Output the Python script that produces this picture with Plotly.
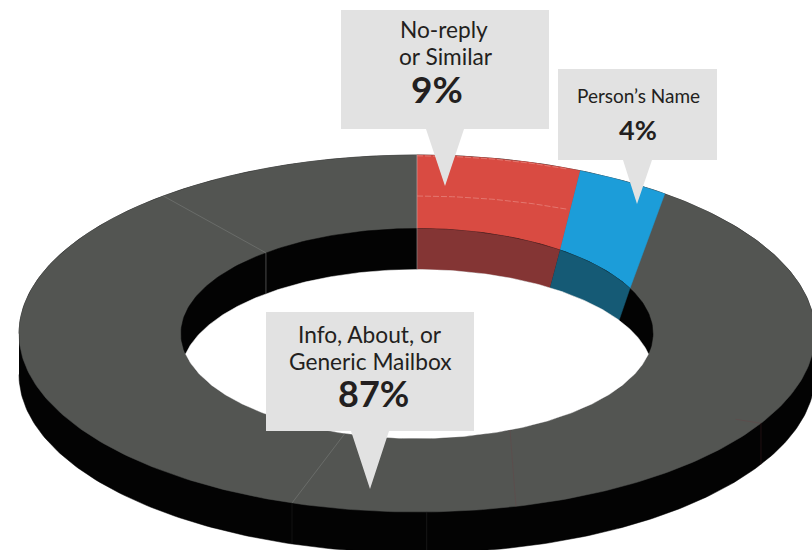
import numpy as np
import plotly.graph_objects as go

# --- data ---
categories = ["No-reply or Similar", "Person’s Name", "Info, About, or Generic Mailbox"]
percents = [9, 4, 87]
slice_colors = ["#D94B42", "#1C9DD9", "#535552"]
wall_colors = ["#843534", "#155A75", "#030303"]
# boundary angles, degrees clockwise from 12 o'clock, as drawn (the picture is warped)
outer_edge_deg = [0, 24.2, 38.5]
inner_edge_deg = [0, 37.3, 64.5]
wall_foot_deg = [0, 34.3, 58.9]
# faint seams: outer angle, inner angle, how far the seam runs from the rim
top_seam_outer = [-39.6, 198.3, 165.6, 120.2]
top_seam_inner = [-39.8, 197.8, 156.8, 128.0]
top_seam_reach = [1.0, 1.0, 1.0, 0.16]
top_seam_colors = ["#737573", "#737573", "#5e4a4a", "#5e4a4a"]
wall_seam_outer = [198.3, 178.6, 120.2]
wall_seam_colors = ["#181818", "#1c1c1c", "#2a1416"]

CX, CY = 417, 333.5
RX, RY = 398, 178.5
IX, IY = 236, 105
DEPTH = 41


def pt(rx, ry, deg, dy=0.0):
    t = np.radians(np.asarray(deg, dtype=float))
    return CX + rx * np.sin(t), CY - ry * np.cos(t) + dy


def arc(a, b, n=80):
    return np.linspace(a, b, n)


def poly(x, y, color):
    return go.Scatter(x=list(x), y=list(y), mode="lines", fill="toself", fillcolor=color,
                      line=dict(color=color, width=0.5), hoverinfo="skip", showlegend=False)


def seam(x, y, color, width=0.8, dash=None):
    return go.Scatter(x=list(x), y=list(y), mode="lines",
                      line=dict(color=color, width=width, dash=dash),
                      hoverinfo="skip", showlegend=False)


fig = go.Figure()

# extruded body: upper half of the top ellipse + lower half of the shifted ellipse
xa, ya = pt(RX, RY, arc(-90, 90, 200))
xb, yb = pt(RX, RY, arc(90, 270, 200), DEPTH)
fig.add_trace(poly(np.r_[xa, xb], np.r_[ya, yb], "#030303"))

# top face, whole ring base
xa, ya = pt(RX, RY, arc(0, 360, 400))
fig.add_trace(poly(xa, ya, slice_colors[2]))

# coloured slices on the top face
for i in range(2):
    xo, yo = pt(RX, RY, arc(outer_edge_deg[i], outer_edge_deg[i + 1]))
    xi, yi = pt(IX, IY, arc(inner_edge_deg[i + 1], inner_edge_deg[i]))
    fig.add_trace(poly(np.r_[xo, xi], np.r_[yo, yi], slice_colors[i]))

# hole, showing the inner wall
xa, ya = pt(IX, IY, arc(0, 360, 300))
fig.add_trace(poly(xa, ya, wall_colors[2]))

# coloured inner walls
for i in range(2):
    xo, yo = pt(IX, IY, arc(inner_edge_deg[i], inner_edge_deg[i + 1]))
    xi, yi = pt(IX, IY, arc(wall_foot_deg[i + 1], wall_foot_deg[i]), DEPTH)
    fig.add_trace(poly(np.r_[xo, xi], np.r_[yo, yi], wall_colors[i]))

# see-through part of the hole: intersection of the inner ellipse and its shifted copy
corner = np.degrees(np.arccos((DEPTH / 2) / IY))
xa, ya = pt(IX, IY, arc(-corner, corner, 200), DEPTH)
xb, yb = pt(IX, IY, arc(180 - corner, 180 + corner, 200))
fig.add_trace(poly(np.r_[xa, xb], np.r_[ya, yb], "#FFFFFF"))

# faint seams on the top face
for o, n, r, c in zip(top_seam_outer, top_seam_inner, top_seam_reach, top_seam_colors):
    xo, yo = pt(RX, RY, [o])
    xi, yi = pt(IX, IY, [n])
    fig.add_trace(seam([xo[0], xo[0] + r * (xi[0] - xo[0])],
                       [yo[0], yo[0] + r * (yi[0] - yo[0])], c, 0.7))

# seams on the outer wall
for o, c in zip(wall_seam_outer, wall_seam_colors):
    xo, yo = pt(RX, RY, [o])
    fig.add_trace(seam([xo[0], xo[0]], [yo[0], yo[0] + DEPTH], c, 0.8))

# seams on the inner wall
xo, yo = pt(IX, IY, [top_seam_inner[0]])
fig.add_trace(seam([xo[0], xo[0]], [yo[0], yo[0] + DEPTH], "#6a6a6a", 0.7))
xo, yo = pt(IX, IY, [0])
fig.add_trace(seam([xo[0], xo[0]], [yo[0], yo[0] + DEPTH], "#8a8a8a", 0.7))
xo, yo = pt(RX, RY, [0])
xi, yi = pt(IX, IY, [0])
fig.add_trace(seam([xo[0], xi[0]], [yo[0], yi[0]], "#b9a5a3", 0.7))

# pale ghost lines across the red slice
xa, ya = pt(RX, RY, arc(0, 22.2, 40), 0.8)
fig.add_trace(seam(xa, ya, "#E88A82", 0.7, "6px,2px"))
xa, ya = pt(RX, RY, arc(0, 22.2, 40), DEPTH)
fig.add_trace(seam(xa, ya, "#E88A82", 0.7, "6px,2px"))

# callouts
FILL = "#E2E2E2"
INK = "#231F20"
boxes = [(341, 10, 549, 129, 426, 464, 445, 186),
         (558, 69, 717, 160, 623, 652, 637, 204),
         (266, 312, 474, 431, 351, 389, 370, 489)]
shapes = []
for x0, y0, x1, y1, b0, b1, tx, ty in boxes:
    shapes.append(dict(type="path", layer="above", fillcolor=FILL, line=dict(width=0),
                       path=f"M{x0},{y0} L{x1},{y0} L{x1},{y1} L{b1},{y1} L{tx},{ty} L{b0},{y1} L{x0},{y1} Z"))


def label(x, y, text, size, bold=False):
    return dict(x=x, y=y, text=f"<b>{text}</b>" if bold else text, showarrow=False,
                xanchor="center", yanchor="middle",
                font=dict(family="Lato", size=size, color=INK))


annotations = [
    label(444, 29.5, "No-reply", 22.7),
    label(446, 56.5, "or Similar", 22.7),
    label(437, 88.5, f"{percents[0]}%", 37, True),
    label(638, 95, "Person’s Name", 19),
    label(638, 129, f"{percents[1]}%", 27, True),
    label(370, 334.5, "Info, About, or", 22.7),
    label(370, 361.5, "Generic Mailbox", 22.7),
    label(373, 392.5, f"{percents[2]}%", 36, True),
]

fig.update_layout(
    width=812, height=550, margin=dict(l=0, r=0, t=0, b=0),
    paper_bgcolor="white", plot_bgcolor="white", showlegend=False,
    xaxis=dict(range=[0, 812], visible=False, fixedrange=True),
    yaxis=dict(range=[550, 0], visible=False, fixedrange=True),
    shapes=shapes, annotations=annotations,
)
fig.write_html("out.html", config={"displayModeBar": False},
               post_script="document.body.style.margin='0';document.documentElement.style.overflow='hidden';")
